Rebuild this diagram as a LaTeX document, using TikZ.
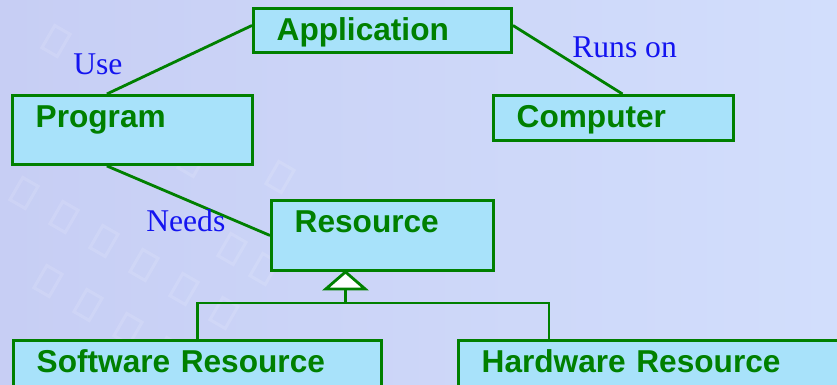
\documentclass[tikz,border=0pt]{standalone}
\usepackage{fontspec}
\setmainfont{Liberation Sans}
\newfontfamily\labelfont{Liberation Serif}
\usetikzlibrary{calc}
\definecolor{boxgreen}{RGB}{0,128,0}
\definecolor{boxfill}{RGB}{168,226,250}
\definecolor{labelblue}{RGB}{20,20,240}
\definecolor{bgleft}{RGB}{199,206,244}
\definecolor{bgright}{RGB}{210,222,252}

\begin{document}
\begin{tikzpicture}[
    box/.style 2 args={draw=boxgreen, fill=boxfill, line width=2.1pt, text=boxgreen,
      font=\fontsize{22.5}{27}\selectfont\bfseries, anchor=north west, align=left,
      inner xsep=0.58cm, inner ysep=0pt, text height=0.8cm, text width=#1, text depth=#2},
    link/.style={boxgreen, line width=2pt},
    role/.style={text=labelblue, font=\labelfont\fontsize{22.5}{27}\selectfont,
      anchor=base west, inner sep=0pt},
    tile/.style={white, opacity=0.12, line width=2.2pt}
]
    % Background
    \useasboundingbox (0,0) rectangle (20.925,9.625);
    \clip (0,0) rectangle (20.925,9.625);
    \shade[left color=bgleft, right color=bgright] (0,0) rectangle (20.925,9.625);
    \foreach \x/\y in {0.6/4.8, 1.6/4.2, 2.6/3.6, 3.6/3.0, 4.6/2.4, 5.6/1.8,
                       1.2/2.6, 2.2/2.0, 3.2/1.4, 4.2/0.8, 5.8/3.4, 6.6/2.9,
                       0.8/6.6, 4.8/5.6, 7.0/5.2, 1.4/8.6}
      \draw[tile, rotate around={-30:(\x,\y)}] (\x-0.22,\y-0.32) rectangle (\x+0.22,\y+0.32);

    % Classes
    \node[box={5.29cm}{0.3cm}] (app) at (6.3,9.45) {Application};
    \node[box={4.84cm}{0.925cm}] (prog) at (0.275,7.275) {Program};
    \node[box={4.84cm}{0.325cm}] (comp) at (12.3,7.275) {Computer};
    \node[box={4.39cm}{0.95cm}] (res) at (6.75,4.65) {Resource};
    \node[box={8.04cm}{0.7cm}] (soft) at (0.3,1.15) {Software Resource};
    \node[box={9.84cm}{0.7cm}] (hard) at (11.425,1.15) {Hardware Resource};

    % Associations
    \draw[link] ([xshift=-6.4mm]prog.north) -- ([yshift=1.25mm]app.west);
    \draw[link] ([yshift=1.25mm]app.east) -- ([xshift=2.25mm]comp.north);
    \draw[link] ([xshift=-6.4mm]prog.south) -- (res.west);

    % Role names
    \node[role] (use) at (1.825,7.75) {Use};
    \node[role] (runs) at (14.3,8.175) {Runs on};
    \node[role] (needs) at (3.65,3.825) {Needs};

    % Generalization
    \coordinate (apex) at ([xshift=-9.25mm]res.south);
    \coordinate (tbase) at ($(apex)+(0,-0.425)$);
    \coordinate (bus) at ($(soft.north)+(0,0.9)$);
    \coordinate (hardin) at ([xshift=2.3cm]hard.north west);
    \draw[link] (soft.north) -- (bus) -| (hardin);
    \draw[link] (tbase) -- (tbase |- bus);
    \draw[link, fill=white] (apex) -- ++(-0.49,-0.425) -- ++(0.98,0) -- cycle;
\end{tikzpicture}
\end{document}
